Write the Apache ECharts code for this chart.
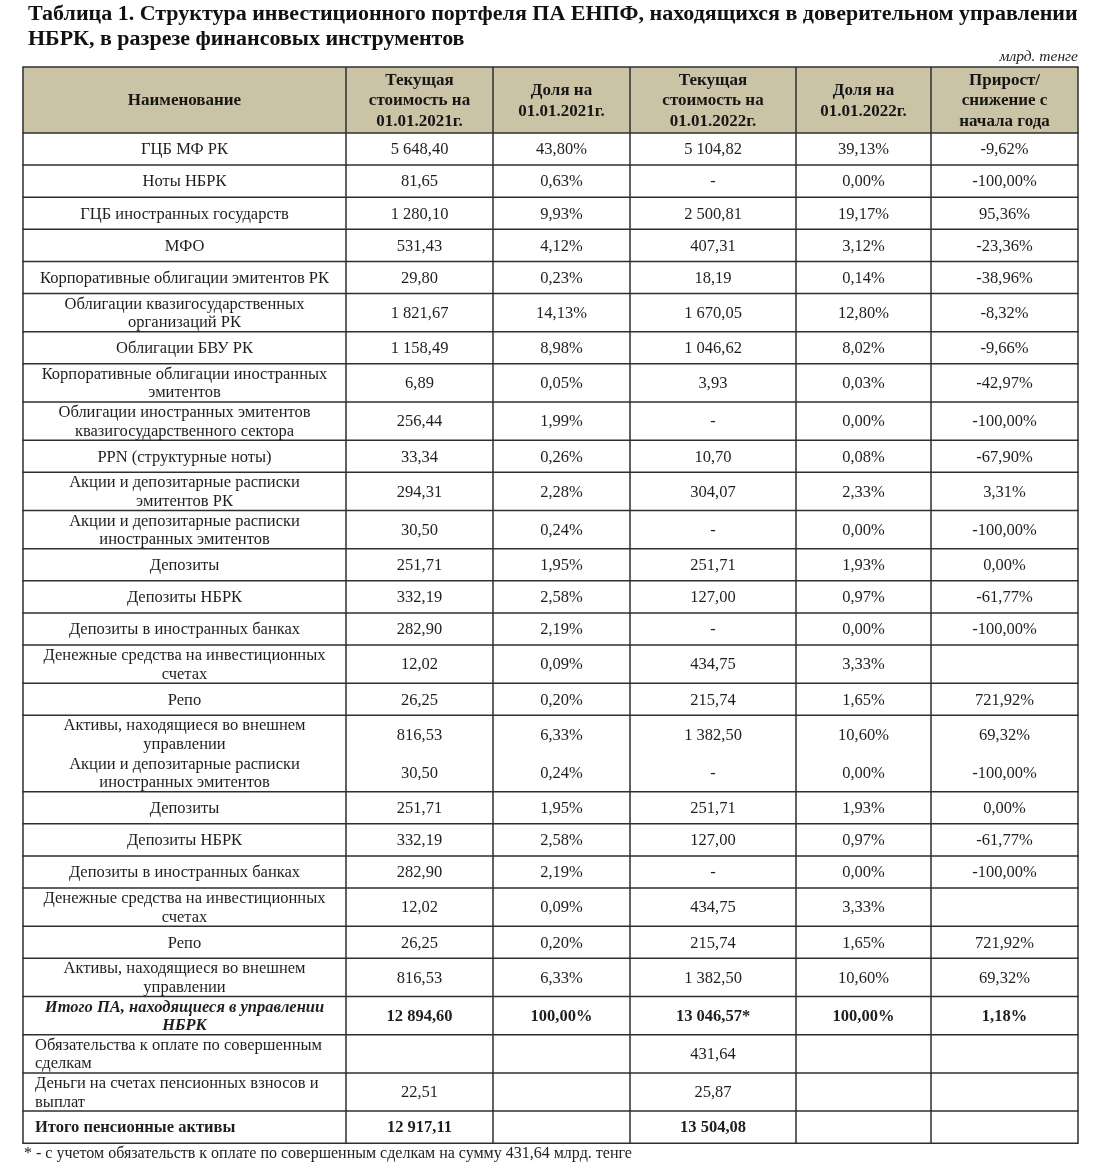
<!DOCTYPE html>
<html><head><meta charset="utf-8">
<script src="https://cdn.jsdelivr.net/npm/echarts@6.0.0/dist/echarts.min.js"></script>
<style>html,body{margin:0;padding:0;background:#fff}#main{width:1120px;height:1174px}</style>
</head><body><div id="main"></div>
<script>
// ---------------- DATA ----------------
const titleText = 'Таблица 1. Структура инвестиционного портфеля ПА ЕНПФ, находящихся в доверительном управлении\nНБРК, в разрезе финансовых инструментов';
const unitText = 'млрд. тенге';
const footnoteText = '* - с учетом обязательств к оплате по совершенным сделкам на сумму 431,64 млрд. тенге';
const headers = [
  'Наименование',
  'Текущая\nстоимость на\n01.01.2021г.',
  'Доля на\n01.01.2021г.',
  'Текущая\nстоимость на\n01.01.2022г.',
  'Доля на\n01.01.2022г.',
  'Прирост/\nснижение с\nначала года'
];
const names = [
  'ГЦБ МФ РК',
  'Ноты НБРК',
  'ГЦБ иностранных государств',
  'МФО',
  'Корпоративные облигации эмитентов РК',
  'Облигации квазигосударственных\nорганизаций РК',
  'Облигации БВУ РК',
  'Корпоративные облигации иностранных\nэмитентов',
  'Облигации иностранных эмитентов\nквазигосударственного сектора',
  'PPN (структурные ноты)',
  'Акции и депозитарные расписки\nэмитентов РК',
  'Акции и депозитарные расписки\nиностранных эмитентов',
  'Депозиты',
  'Депозиты НБРК',
  'Депозиты в иностранных банках',
  'Денежные средства на инвестиционных\nсчетах',
  'Репо',
  'Активы, находящиеся во внешнем\nуправлении',
  'Акции и депозитарные расписки\nиностранных эмитентов',
  'Депозиты',
  'Депозиты НБРК',
  'Депозиты в иностранных банках',
  'Денежные средства на инвестиционных\nсчетах',
  'Репо',
  'Активы, находящиеся во внешнем\nуправлении',
  'Итого ПА, находящиеся в управлении\nНБРК',
  'Обязательства к оплате по совершенным\nсделкам',
  'Деньги на счетах пенсионных взносов и\nвыплат',
  'Итого пенсионные активы'
];
// null = empty cell, '-' = dash
const value2021 = [5648.40, 81.65, 1280.10, 531.43, 29.80, 1821.67, 1158.49, 6.89, 256.44, 33.34, 294.31, 30.50, 251.71, 332.19, 282.90, 12.02, 26.25, 816.53, 30.50, 251.71, 332.19, 282.90, 12.02, 26.25, 816.53, 12894.60, null, 22.51, 12917.11];
const share2021 = [43.80, 0.63, 9.93, 4.12, 0.23, 14.13, 8.98, 0.05, 1.99, 0.26, 2.28, 0.24, 1.95, 2.58, 2.19, 0.09, 0.20, 6.33, 0.24, 1.95, 2.58, 2.19, 0.09, 0.20, 6.33, 100.00, null, null, null];
const value2022 = [5104.82, '-', 2500.81, 407.31, 18.19, 1670.05, 1046.62, 3.93, '-', 10.70, 304.07, '-', 251.71, 127.00, '-', 434.75, 215.74, 1382.50, '-', 251.71, 127.00, '-', 434.75, 215.74, 1382.50, 13046.57, 431.64, 25.87, 13504.08];
const share2022 = [39.13, 0.00, 19.17, 3.12, 0.14, 12.80, 8.02, 0.03, 0.00, 0.08, 2.33, 0.00, 1.93, 0.97, 0.00, 3.33, 1.65, 10.60, 0.00, 1.93, 0.97, 0.00, 3.33, 1.65, 10.60, 100.00, null, null, null];
const change = [-9.62, -100.00, 95.36, -23.36, -38.96, -8.32, -9.66, -42.97, -100.00, -67.90, 3.31, -100.00, 0.00, -61.77, -100.00, null, 721.92, 69.32, -100.00, 0.00, -61.77, -100.00, null, 721.92, 69.32, 1.18, null, null, null];
const footnoteMarkRow = 25;           // 13 046,57*
const subtotalRow = 25;               // Итого ПА ...
const totalRow = 28;                  // Итого пенсионные активы
const leftAlignedRows = [26, 27, 28];
const mergedAfterRow = 17;            // no rule between rows 18 and 19

// ---------------- LAYOUT ----------------
const FONT = '"Liberation Serif", "Times New Roman", serif';
const colWidths = [323, 147, 137, 166, 135, 147];
const headerHeight = 66;
const oneLineRow = 32.1;
const twoLineRow = 38.2;
const tableLeft = 23, tableTop = 67;
const bodySize = 16.5, headSize = 17;

function fmt(v) {
  if (v === null || v === undefined) return '';
  if (typeof v === 'string') return v;
  const neg = v < 0;
  const s = Math.abs(v).toFixed(2).split('.');
  const intPart = s[0].replace(/\B(?=(\d{3})+(?!\d))/g, ' ');
  return (neg ? '-' : '') + intPart + ',' + s[1];
}
function pct(v) { return (v === null || v === undefined) ? '' : fmt(v) + '%'; }

const colEdges = [0];
colWidths.forEach(w => colEdges.push(colEdges[colEdges.length - 1] + w));
const rowEdges = [0, headerHeight];
names.forEach(n => {
  const h = n.split('\n').length > 1 ? twoLineRow : oneLineRow;
  rowEdges.push(rowEdges[rowEdges.length - 1] + h);
});
const tableW = colEdges[colEdges.length - 1];
const tableH = rowEdges[rowEdges.length - 1];

function cellText(r, c) {
  if (r === 0) return headers[c];
  const i = r - 1;
  switch (c) {
    case 0: return names[i];
    case 1: return fmt(value2021[i]);
    case 2: return pct(share2021[i]);
    case 3: return fmt(value2022[i]) + (i === footnoteMarkRow ? '*' : '');
    case 4: return pct(share2022[i]);
    case 5: return pct(change[i]);
  }
}

const cellData = [];
for (let r = 0; r <= names.length; r++)
  for (let c = 0; c < headers.length; c++) cellData.push([c, r]);

const hLines = [];
for (let r = 0; r < rowEdges.length; r++) {
  if (r === mergedAfterRow + 2) continue;
  hLines.push([r]);
}
const vLines = colEdges.map((_, i) => [i]);

// fit title first line to the table width
const titleLines = titleText.split('\n');
let titleSize = 21;
(function () {
  const ctx = document.createElement('canvas').getContext('2d');
  ctx.font = 'bold 21px ' + FONT;
  const w = ctx.measureText(titleLines[0]).width;
  if (w > 0) titleSize = Math.min(23, 21 * 1050 / w);
})();

const chart = echarts.init(document.getElementById('main'), null, { renderer: 'canvas' });
chart.setOption({
  backgroundColor: '#ffffff',
  animation: false,
  title: [
    { text: titleText, left: 28, top: 2, padding: 0,
      textStyle: { fontFamily: FONT, fontWeight: 'bold', fontSize: titleSize, lineHeight: 25, color: '#111' } },
    { text: unitText, right: 42, top: 49, padding: 0,
      textStyle: { fontFamily: FONT, fontStyle: 'italic', fontWeight: 'normal', fontSize: 15.5, color: '#222' } },
    { text: footnoteText, left: 24, top: 1146, padding: 0,
      textStyle: { fontFamily: FONT, fontWeight: 'normal', fontSize: 16, color: '#222' } }
  ],
  grid: { left: tableLeft, top: tableTop, width: tableW, height: tableH },
  xAxis: { type: 'value', min: 0, max: tableW, show: false },
  yAxis: { type: 'value', min: 0, max: tableH, inverse: true, show: false },
  series: [
    {
      type: 'custom', name: 'cells', data: cellData, clip: false,
      renderItem: function (params, api) {
        const c = api.value(0), r = api.value(1);
        const p0 = api.coord([colEdges[c], rowEdges[r]]);
        const p1 = api.coord([colEdges[c + 1], rowEdges[r + 1]]);
        const w = p1[0] - p0[0], h = p1[1] - p0[1];
        const i = r - 1;
        let weight = 'normal', style = 'normal', size = bodySize, align = 'center', tx = p0[0] + w / 2;
        let lh = 18.5;
        if (r === 0) { weight = 'bold'; size = headSize; lh = 20.5; }
        else {
          if (i === subtotalRow || i === totalRow) weight = 'bold';
          if (c === 0 && i === subtotalRow) style = 'italic';
          if (c === 0 && leftAlignedRows.indexOf(i) >= 0) { align = 'left'; tx = p0[0] + 12; }
        }
        const children = [];
        if (r === 0) {
          children.push({ type: 'rect', shape: { x: p0[0], y: p0[1], width: w, height: h },
            style: { fill: '#cbc3a6' } });
        }
        children.push({
          type: 'text',
          style: {
            text: cellText(r, c), x: tx, y: p0[1] + h / 2 + 1,
            align: align, verticalAlign: 'middle',
            font: style + ' ' + weight + ' ' + size + 'px ' + FONT,
            lineHeight: lh, fill: r === 0 ? '#161616' : '#1e1e1e'
          }
        });
        return { type: 'group', children: children };
      }
    },
    {
      type: 'custom', name: 'hrules', data: hLines, clip: false, z: 5,
      renderItem: function (params, api) {
        const r = api.value(0);
        const a = api.coord([0, rowEdges[r]]), b = api.coord([tableW, rowEdges[r]]);
        return { type: 'line', shape: { x1: a[0] - 0.7, y1: a[1], x2: b[0] + 0.7, y2: b[1] },
          style: { stroke: '#2e2e2e', lineWidth: 1.5 } };
      }
    },
    {
      type: 'custom', name: 'vrules', data: vLines, clip: false, z: 5,
      renderItem: function (params, api) {
        const c = api.value(0);
        const a = api.coord([colEdges[c], 0]), b = api.coord([colEdges[c], tableH]);
        return { type: 'line', shape: { x1: a[0], y1: a[1], x2: b[0], y2: b[1] },
          style: { stroke: '#2e2e2e', lineWidth: 1.5 } };
      }
    }
  ]
});
</script>
</body></html>
